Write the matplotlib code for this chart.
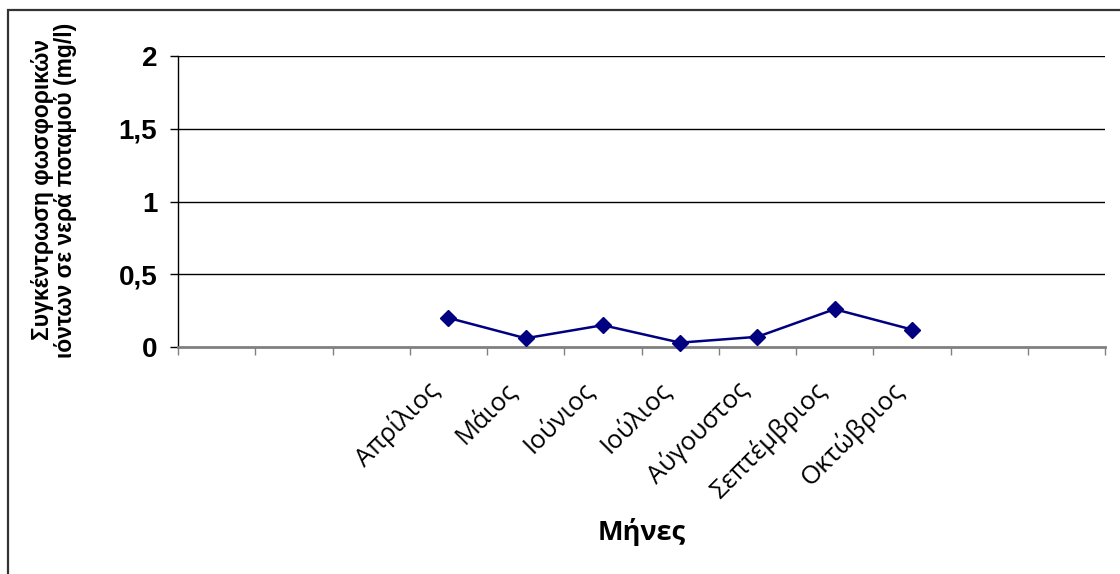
import matplotlib
matplotlib.use("Agg")
import matplotlib.pyplot as plt
from matplotlib.patches import Rectangle
from matplotlib.transforms import ScaledTranslation

# Monthly phosphate concentration in river water (mg/l)
categories = ["", "", "", "Απρίλιος", "Μάιος", "Ιούνιος", "Ιούλιος",
              "Αύγουστος", "Σεπτέμβριος", "Οκτώβριος", "", ""]
months = ["Απρίλιος", "Μάιος", "Ιούνιος", "Ιούλιος",
          "Αύγουστος", "Σεπτέμβριος", "Οκτώβριος"]
values = [0.20, 0.06, 0.15, 0.03, 0.07, 0.26, 0.12]
y_ticks = [0, 0.5, 1, 1.5, 2]
y_tick_labels = ["0", "0,5", "1", "1,5", "2"]

W, H = 1120, 574
fig = plt.figure(figsize=(W / 100, H / 100), dpi=100)
fig.patch.set_facecolor("white")

ax = fig.add_axes([178 / W, 1 - 347 / H, (1105 - 178) / W, (347 - 56) / H])

xpos = [categories.index(m) for m in months]
ax.plot(xpos, values, color="#000080", lw=1.8, marker="D", markersize=8.5,
        markerfacecolor="#000080", markeredgecolor="#000080", zorder=5,
        clip_on=False)

ax.set_xlim(-0.5, len(categories) - 0.5)
ax.set_ylim(0, 2)

# horizontal gridlines
for y in y_ticks[1:]:
    ax.axhline(y, color="black", lw=1.0, zorder=1)

# y axis
ax.set_yticks(y_ticks)
ax.set_yticklabels(y_tick_labels, fontfamily="Liberation Sans",
                   fontweight="bold", fontsize=20)
ax.tick_params(axis="y", length=6, width=1, color="black", pad=9,
               direction="out")

# x axis: tick marks between categories, labels at centers
ax.set_xticks([i - 0.5 for i in range(len(categories) + 1)], minor=True)
ax.set_xticks(range(len(categories)))
ax.set_xticklabels(categories, fontfamily="Open Sans", fontsize=18.5,
                   rotation=45, ha="right", va="top", rotation_mode="anchor")
ax.tick_params(axis="x", which="major", length=0, pad=18)
shift = ScaledTranslation(-0.22, -0.05, fig.dpi_scale_trans)
for lab in ax.get_xticklabels():
    lab.set_transform(lab.get_transform() + shift)
ax.tick_params(axis="x", which="minor", length=6, width=1, color="#808080",
               direction="out")

for side in ["top", "right"]:
    ax.spines[side].set_visible(False)
ax.spines["left"].set_color("black")
ax.spines["left"].set_linewidth(1.0)
ax.spines["bottom"].set_color("#808080")
ax.spines["bottom"].set_linewidth(2.0)
ax.spines["bottom"].set_zorder(3)

fig.text(54 / W, 1 - 190 / H,
         "Συγκέντρωση φωσφορικών\nιόντων σε νερά ποταμού (mg/l)",
         rotation=90, ha="center", va="center", multialignment="center",
         fontfamily="Liberation Sans", fontweight="bold", fontsize=16.5,
         linespacing=1.0)

fig.text(642 / W, 1 - 532 / H, "Μήνες", ha="center", va="center",
         fontfamily="Open Sans", fontweight="bold", fontsize=19.5)

# chart border
fig.add_artist(Rectangle((8 / W, -0.1), 1.2, 1 - 10 / H + 0.1,
                         transform=fig.transFigure, fill=False,
                         edgecolor="#333333", lw=1.6))

fig.savefig("out.png", dpi=100)
